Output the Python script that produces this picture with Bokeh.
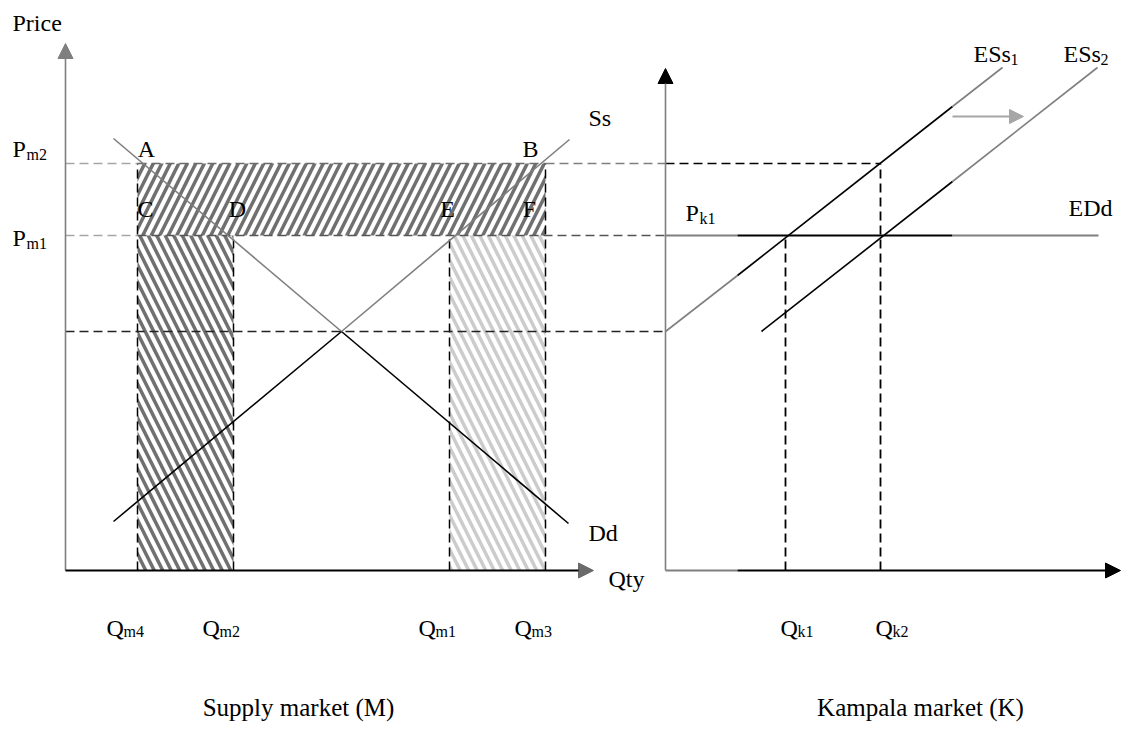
from bokeh.plotting import figure
from bokeh.models import Range1d, Arrow, NormalHead, ColumnDataSource
from bokeh.core.properties import value
from bokeh.embed import file_html
from bokeh.resources import INLINE

# ---------------- data (diagram units) ----------------
# Supply market (M)
q_m_names = ["m4", "m2", "m1", "m3"]
q_m_values = [72, 168, 384, 480]
p_m_names = ["m2", "m1"]
p_m2 = 407
p_m1 = 335
p_eq = 239
dd_q = [48, 276, 503]
dd_p = [432, 239, 47]
ss_q = [48, 276, 504]
ss_p = [49, 239, 431]
corner_names = ["A", "B", "C", "D", "E", "F"]

# Kampala market (K)
k_origin = 600
q_k_names = ["k1", "k2"]
q_k_values = [720, 815]
p_k1 = 335
ess1_q = [600, 672, 887, 937]
ess1_p = [239, 295, 464, 503]
ess2_q = [696, 887, 1032]
ess2_p = [239, 389, 503]
edd_q = [600, 672, 887, 1033]

# axis extents
m_y_top, m_x_right = 527, 528
k_y_top, k_x_right = 502, 1055

FONT = value("Liberation Serif")
GRAY = "#7f7f7f"
LGRAY = "#a6a6a6"
MGRAY = "#6a6a6a"
BLACK = "#000000"
FS = "24px"
SUB = "16px"
DASH = "9 5"

p = figure(width=1122, height=745, x_range=Range1d(-65, 1057), y_range=Range1d(-175, 570),
           output_backend="svg", toolbar_location=None, min_border=0,
           x_axis_location=None, y_axis_location=None)
p.grid.visible = False
p.outline_line_color = None

# ---------------- hatched areas ----------------
p.quad(left=[q_m_values[0]], right=[q_m_values[3]], bottom=[p_m1], top=[p_m2],
       fill_color=None, line_color=None, hatch_pattern="/", hatch_color="#707070",
       hatch_scale=17, hatch_weight=3.5)
p.quad(left=[q_m_values[0]], right=[q_m_values[1]], bottom=[0], top=[p_m1],
       fill_color=None, line_color=None, hatch_pattern="\\", hatch_color="#707070",
       hatch_scale=17, hatch_weight=3.5)
p.quad(left=[q_m_values[2]], right=[q_m_values[3]], bottom=[0], top=[p_m1],
       fill_color=None, line_color=None, hatch_pattern="\\", hatch_color="#cccccc",
       hatch_scale=17, hatch_weight=3.5)

# ---------------- dashed guide lines ----------------
for q, top in zip(q_m_values, [p_m2, p_m1, p_m1, p_m2]):
    p.line([q, q], [0, top], line_color=BLACK, line_width=1.5, line_dash=DASH)
p.line([0, q_m_values[0]], [p_m2, p_m2], line_color=LGRAY, line_width=1.5, line_dash=DASH)
p.line([q_m_values[0], q_m_values[3]], [p_m2, p_m2], line_color=MGRAY, line_width=1.5, line_dash=DASH)
p.line([q_m_values[3], k_origin], [p_m2, p_m2], line_color=GRAY, line_width=1.5, line_dash=DASH)
p.line([k_origin, q_k_values[1]], [p_m2, p_m2], line_color=BLACK, line_width=1.5, line_dash=DASH)
p.line([0, q_m_values[0]], [p_m1, p_m1], line_color=LGRAY, line_width=1.5, line_dash=DASH)
p.line([q_m_values[0], k_origin], [p_m1, p_m1], line_color="#555555", line_width=1.5, line_dash=DASH)
p.line([0, k_origin], [p_eq, p_eq], line_color="#222222", line_width=1.5, line_dash=DASH)
for q, top in zip(q_k_values, [p_k1, p_m2]):
    p.line([q, q], [0, top], line_color=BLACK, line_width=1.8, line_dash=DASH)

# ---------------- curves ----------------
p.line(dd_q[:2], dd_p[:2], line_color=GRAY, line_width=1.6)
p.line(dd_q[1:], dd_p[1:], line_color=BLACK, line_width=1.6)
p.line(ss_q[:2], ss_p[:2], line_color=BLACK, line_width=1.6)
p.line(ss_q[1:], ss_p[1:], line_color=GRAY, line_width=1.6)

p.line(ess1_q[:2], ess1_p[:2], line_color=GRAY, line_width=1.6)
p.line(ess1_q[1:3], ess1_p[1:3], line_color=BLACK, line_width=1.6)
p.line(ess1_q[2:], ess1_p[2:], line_color=GRAY, line_width=1.6)
p.line(ess2_q[:2], ess2_p[:2], line_color=BLACK, line_width=1.6)
p.line(ess2_q[1:], ess2_p[1:], line_color=GRAY, line_width=1.6)

p.line(edd_q[:2], [p_k1, p_k1], line_color=GRAY, line_width=1.8)
p.line(edd_q[1:3], [p_k1, p_k1], line_color=BLACK, line_width=1.8)
p.line(edd_q[2:], [p_k1, p_k1], line_color=GRAY, line_width=1.8)

# ---------------- axes ----------------
p.add_layout(Arrow(end=NormalHead(size=15, fill_color=GRAY, line_color=GRAY),
                   x_start=0, y_start=0, x_end=0, y_end=m_y_top,
                   line_color=GRAY, line_width=1.6))
p.add_layout(Arrow(end=NormalHead(size=15, fill_color=MGRAY, line_color=MGRAY),
                   x_start=0, y_start=0, x_end=m_x_right, y_end=0,
                   line_color=BLACK, line_width=2))
p.add_layout(Arrow(end=NormalHead(size=15, fill_color=BLACK, line_color=BLACK),
                   x_start=k_origin, y_start=0, x_end=k_origin, y_end=k_y_top,
                   line_color=GRAY, line_width=1.6))
p.line([k_origin, edd_q[1]], [0, 0], line_color=GRAY, line_width=2)
p.add_layout(Arrow(end=NormalHead(size=15, fill_color=BLACK, line_color=BLACK),
                   x_start=edd_q[1], y_start=0, x_end=k_x_right, y_end=0,
                   line_color=BLACK, line_width=2))
p.add_layout(Arrow(end=NormalHead(size=14, fill_color=LGRAY, line_color=LGRAY),
                   x_start=887, y_start=454, x_end=958, y_end=454,
                   line_color=LGRAY, line_width=2))

# ---------------- texts ----------------
def txt(xs, ys, texts, size=FS, align="left", xo=0, yo=0, color=BLACK):
    src = ColumnDataSource(dict(x=xs, y=ys, t=texts))
    p.text(x="x", y="y", text="t", source=src, text_font=FONT, text_font_size=size,
           text_align=align, text_baseline="middle", text_color=color,
           x_offset=xo, y_offset=yo)

txt([-53], [548], ["Price"])
txt([-53, -53], [422, 333], ["P", "P"])
txt([-53, -53], [422, 333], p_m_names, size=SUB, xo=14, yo=6)
qm_x = [q - 31 for q in q_m_values]
txt(qm_x, [-57] * 4, ["Q"] * 4)
txt(qm_x, [-57] * 4, q_m_names, size=SUB, xo=17, yo=4)
qk_x = [q - 5 for q in q_k_values]
txt(qk_x, [-57] * 2, ["Q"] * 2)
txt(qk_x, [-57] * 2, q_k_names, size=SUB, xo=17, yo=4)
txt([620], [358], ["P"])
txt([620], [358], ["k1"], size=SUB, xo=14, yo=6)
txt([81, 465, 80, 172, 382, 464], [422, 422, 362, 362, 362, 362], corner_names, align="center")
txt([523], [453], ["Ss"])
txt([523], [38], ["Dd"])
txt([543], [-8], ["Qty"])
txt([1003], [363], ["EDd"])
txt([908, 998], [517, 517], ["ESs", "ESs"])
txt([908, 998], [517, 517], ["1", "2"], size=SUB, xo=37, yo=6)
txt([233, 855], [-137, -137], ["Supply market (M)", "Kampala market (K)"], size="25px", align="center")

open("out.html", "w").write(file_html(p, INLINE))
